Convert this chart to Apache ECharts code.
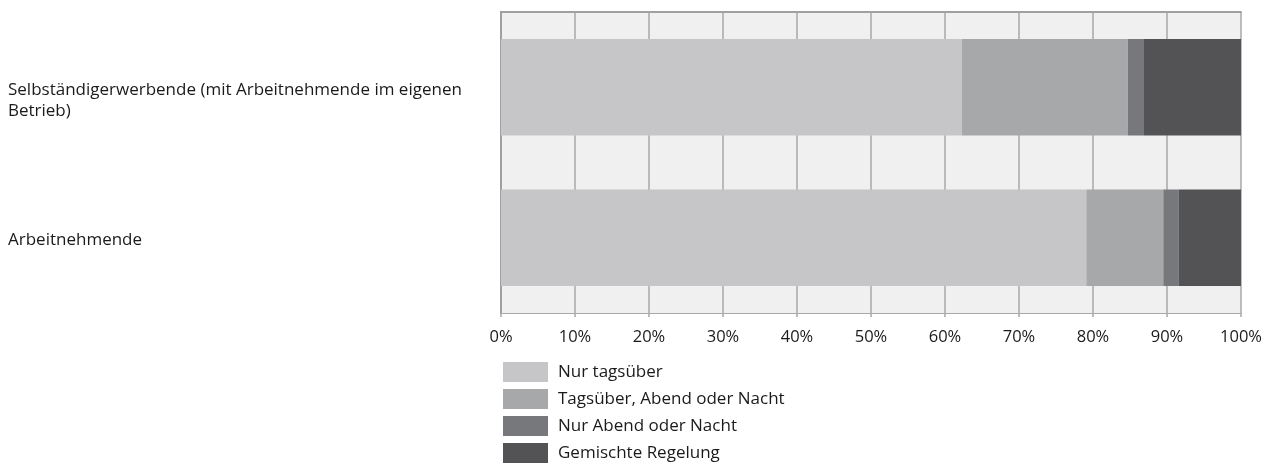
<!DOCTYPE html>
<html>
<head>
<meta charset="utf-8">
<script src="https://cdn.jsdelivr.net/npm/echarts@6/dist/echarts.min.js"></script>
<style>html,body{margin:0;padding:0;background:#fff}#c{width:1266px;height:466px}</style>
</head>
<body>
<div id="c"></div>
<script>
var categories = ['Selbständigerwerbende (mit Arbeitnehmende im eigenen Betrieb)', 'Arbeitnehmende'];
var seriesNames = ['Nur tagsüber', 'Tagsüber, Abend oder Nacht', 'Nur Abend oder Nacht', 'Gemischte Regelung'];
var nurTagsueber = [62.3, 79.1];
var tagsueberAbendNacht = [22.4, 10.4];
var nurAbendNacht = [2.1, 2.1];
var gemischteRegelung = [13.2, 8.4];
var colors = ['#c6c6c8', '#a7a8aa', '#77787b', '#535355'];

var values = [nurTagsueber, tagsueberAbendNacht, nurAbendNacht, gemischteRegelung];
var font = '"Open Sans", sans-serif';
var fs = 17;

var chart = echarts.init(document.getElementById('c'));
chart.setOption({
  animation: false,
  textStyle: { fontFamily: font },
  grid: {
    left: 501, right: 25, top: 12, bottom: 153,
    show: true, backgroundColor: '#eff0ef', borderWidth: 0
  },
  legend: {
    left: 503, top: 362, orient: 'vertical', padding: 0,
    itemWidth: 45, itemHeight: 20, itemGap: 7,
    icon: 'rect',
    textStyle: { fontSize: fs, color: '#1a1a1a', fontFamily: font, padding: [0, 0, 0, 5] },
    data: seriesNames
  },
  xAxis: [{
    type: 'value', min: 0, max: 100, interval: 10,
    axisLine: { show: true, lineStyle: { color: '#a8a8a8', width: 1 } },
    axisTick: { show: true, length: 4, lineStyle: { color: '#a8a8a8', width: 1.5 } },
    splitLine: { show: true, lineStyle: { color: '#a8a8a8', width: 1.5 } },
    axisLabel: { formatter: '{value}%', fontSize: 16.5, color: '#1a1a1a', margin: 16 }
  }, {
    type: 'value', min: 0, max: 100, position: 'top',
    axisLine: { show: true, lineStyle: { color: '#a0a0a0', width: 2 } },
    axisTick: { show: false }, axisLabel: { show: false }, splitLine: { show: false }
  }],
  yAxis: [{
    type: 'category', data: categories, inverse: true,
    axisLine: { show: true, lineStyle: { color: '#9a9a9a', width: 2 } },
    axisTick: { show: false },
    axisLabel: {
      align: 'left', margin: 493, fontSize: fs, color: '#1a1a1a', lineHeight: 21,
      width: 488, overflow: 'break', verticalAlign: 'top', padding: [-8, 0, 0, 0]
    }
  }, {
    type: 'category', data: categories, inverse: true, position: 'right',
    axisLine: { show: true, lineStyle: { color: '#a0a0a0', width: 2 } },
    axisTick: { show: false }, axisLabel: { show: false }
  }],
  series: seriesNames.map(function (n, i) {
    return {
      name: n, type: 'bar', stack: 'total', barWidth: '64%',
      itemStyle: { color: colors[i] },
      data: values[i]
    };
  })
});
</script>
</body>
</html>
